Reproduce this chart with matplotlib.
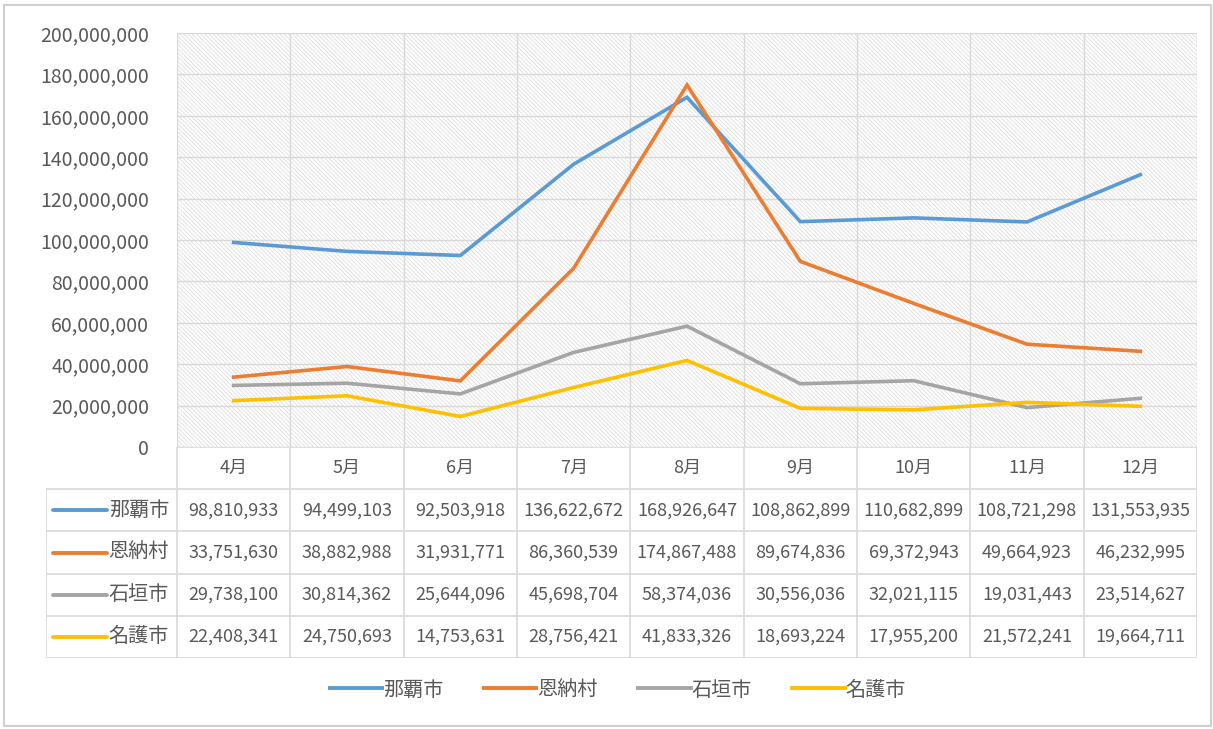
import numpy as np
import matplotlib.pyplot as plt
from matplotlib.patches import Rectangle
from matplotlib.lines import Line2D
from matplotlib.ticker import FuncFormatter

plt.rcParams['font.family'] = ['Noto Sans CJK JP', 'DejaVu Sans']
plt.rcParams['hatch.linewidth'] = 0.6

# data
months = ['4月', '5月', '6月', '7月', '8月', '9月', '10月', '11月', '12月']
names = ['那覇市', '恩納村', '石垣市', '名護市']
naha = [98810933, 94499103, 92503918, 136622672, 168926647, 108862899, 110682899, 108721298, 131553935]
onna = [33751630, 38882988, 31931771, 86360539, 174867488, 89674836, 69372943, 49664923, 46232995]
ishigaki = [29738100, 30814362, 25644096, 45698704, 58374036, 30556036, 32021115, 19031443, 23514627]
nago = [22408341, 24750693, 14753631, 28756421, 41833326, 18693224, 17955200, 21572241, 19664711]
series = [naha, onna, ishigaki, nago]
colors = ['#5B9BD5', '#ED7D31', '#A5A5A5', '#FFC000']

W, H = 1213, 729
txt = '#595959'
grid_c = '#d9d9d9'
fs_num = 13
fs_axis = 14
fs_name = 14.5

fig = plt.figure(figsize=(W / 100, H / 100), dpi=100)

# outer chart border
fig.add_artist(Rectangle((4 / W, 3 / H), 1207 / W, 721 / H, transform=fig.transFigure,
                         fill=False, edgecolor='#d0d0d0', lw=1.5))

# plot area
x0, x1, ytop, ybot = 177, 1197, 33, 447
ax = fig.add_axes([x0 / W, 1 - ybot / H, (x1 - x0) / W, (ybot - ytop) / H])
n = len(months)
ax.set_xlim(0, n)
ax.set_ylim(0, 200_000_000)
ax.add_patch(Rectangle((0, 0), 1, 1, transform=ax.transAxes, facecolor='white',
                       edgecolor='#dedede', hatch='\\' * 8, lw=0, zorder=0))
for yv in np.arange(0, 200_000_001, 20_000_000):
    ax.axhline(yv, color=grid_c, lw=1, zorder=1)
for xv in range(n + 1):
    ax.axvline(xv, color=grid_c, lw=1, zorder=1)

xs = np.arange(n) + 0.5
for vals, c in zip(series, colors):
    ax.plot(xs, vals, color=c, lw=2.6, solid_joinstyle='miter', zorder=3)

for s in ax.spines.values():
    s.set_visible(False)
ax.set_xticks([])
ax.set_yticks(np.arange(0, 200_000_001, 20_000_000))
ax.yaxis.set_major_formatter(FuncFormatter(lambda v, p: f'{int(v):,}'))
ax.tick_params(axis='y', length=0, pad=20, labelsize=fs_axis, labelcolor=txt)

# data table
tleft, tbot = 46, 658
lab_w = (x0 - tleft) / ((x1 - x0) / n)
tax = fig.add_axes([tleft / W, 1 - tbot / H, (x1 - tleft) / W, (tbot - ybot) / H])
tax.set_xlim(-lab_w, n)
tax.set_ylim(5, 0)
tax.axis('off')

for i, m in enumerate(months):
    tax.text(i + 0.5, 0.5, m, ha='center', va='center', fontsize=fs_num, color=txt)
for xv in range(n + 1):
    tax.plot([xv, xv], [0, 5], color=grid_c, lw=1.2)
tax.plot([-lab_w, -lab_w], [1, 5], color=grid_c, lw=1.2)
for r in range(1, 6):
    tax.plot([-lab_w, n], [r, r], color=grid_c, lw=1.2)
tax.plot([0, n], [0, 0], color=grid_c, lw=1.2)

for r, (name, vals, c) in enumerate(zip(names, series, colors)):
    yr = r + 1.5
    tax.plot([-lab_w + 0.06, -lab_w + 0.54], [yr, yr], color=c, lw=2.8, solid_capstyle='round')
    tax.text(-0.07, yr, name, ha='right', va='center', fontsize=fs_name, color=txt)
    for i, v in enumerate(vals):
        tax.text(i + 0.5, yr, f'{v:,}', ha='center', va='center', fontsize=fs_num, color=txt)

# legend
handles = [Line2D([], [], color=c, lw=2.8) for c in colors]
fig.legend(handles, names, loc='center', bbox_to_anchor=(618 / W, 1 - 690 / H), ncol=4,
           frameon=False, fontsize=fs_name, labelcolor=txt, handlelength=2.6,
           handletextpad=0.05, columnspacing=2.0)

fig.savefig('out.png', dpi=100)
